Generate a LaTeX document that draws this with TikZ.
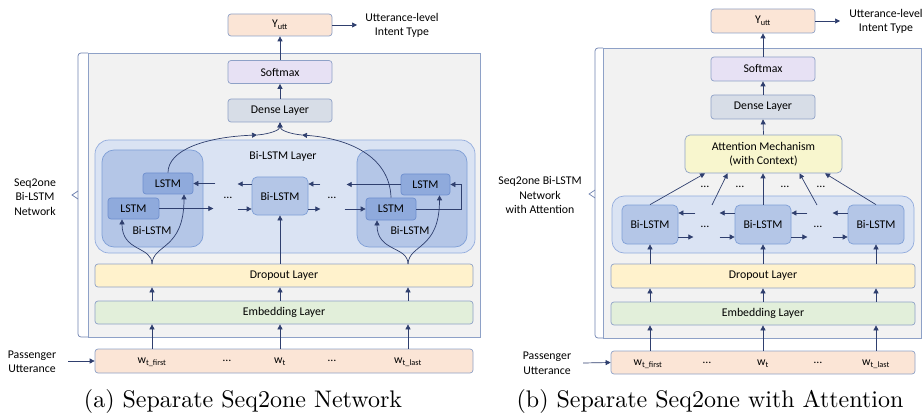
\documentclass[tikz,border=0pt]{standalone}
\usepackage{fontspec}
\newfontfamily\carlito{Carlito}
\newfontfamily\capf{lmroman10-regular}[Extension=.otf]
\usetikzlibrary{arrows.meta}
\definecolor{arrc}{HTML}{2F3F6E}
\definecolor{bord}{HTML}{8EA1C7}
\definecolor{brk}{HTML}{6F82B0}
\definecolor{peach}{HTML}{FBE5D6}
\definecolor{lav}{HTML}{E7E1F4}
\definecolor{dens}{HTML}{D7DDE7}
\definecolor{frm}{HTML}{F2F2F2}
\definecolor{lay}{HTML}{DAE3F3}
\definecolor{layb}{HTML}{93ACDD}
\definecolor{bil}{HTML}{B4C6E7}
\definecolor{bilb}{HTML}{7F9FD6}
\definecolor{lstm}{HTML}{8FAADC}
\definecolor{lstmb}{HTML}{6F8FCF}
\definecolor{drop}{HTML}{FFF2CC}
\definecolor{emb}{HTML}{E2EFDA}
\definecolor{att}{HTML}{F8F6CE}
\newcommand{\lf}{\carlito\fontsize{11.8}{14.5}\selectfont}
\begin{document}
\begin{tikzpicture}[x=1pt,y=-1pt,
  box/.style={draw=bord, line width=0.7pt, rounded corners=3pt, inner sep=0pt, align=center, font=\lf},
  lbl/.style={inner sep=0pt, align=center, font=\lf},
  lstmbox/.style={box, draw=lstmb, fill=lstm, minimum width=50, minimum height=21},
  bibox/.style={box, draw=bilb, fill=bil, rounded corners=5pt},
  framebox/.style={draw=bord, fill=frm, line width=0.7pt, inner sep=0pt},
  brack/.style={draw=brk, line width=0.7pt},
  arr/.style={draw=arrc, line width=0.7pt, -{Triangle[length=5pt,width=5pt]}},
  captxt/.style={inner sep=0pt, font=\capf\fontsize{24}{28}\selectfont}]
\useasboundingbox (0,0) rectangle (923,414);

% ================= Panel (a) =================
\node[framebox, minimum width=392, minimum height=284] (frA) at (284,195) {};
\draw[brack, rounded corners=3pt] (88,53) -- (78,53) -- (78,337) -- (88,337);
\draw[brack] (78,191) -- (72,195) -- (78,199);
\node[lbl] (labA) at (35,197) {Seq2one\\Bi-LSTM\\Network};

\node[box, fill=peach, minimum width=104, minimum height=22] (yA) at (280,25) {Y\textsubscript{utt}};
\node[lbl] (utA) at (402,25.5) {Utterance-level\\Intent Type};
\coordinate (uaA) at (357,25);
\draw[arr] (yA.east) -- (uaA);

\node[box, fill=lav, minimum width=104, minimum height=23] (smA) at (280,72) {Softmax};
\node[box, fill=dens, minimum width=104, minimum height=23] (dnA) at (280,110.5) {Dense Layer};
\draw[arr] (smA.north) -- (yA.south);
\draw[arr] (dnA.north) -- (smA.south);

\node[draw=layb, fill=lay, line width=0.7pt, rounded corners=14pt, minimum width=380, minimum height=113, inner sep=0pt] (layA) at (285,196.5) {};
\node[lbl] (layAt) at (283,156) {Bi-LSTM Layer};
\node[draw=bilb, fill=bil, line width=0.7pt, rounded corners=12pt, minimum width=101, minimum height=97, inner sep=0pt] (bL) at (152.5,198.5) {};
\node[draw=bilb, fill=bil, line width=0.7pt, rounded corners=12pt, minimum width=110, minimum height=97, inner sep=0pt] (bR) at (412,198.5) {};
\node[lbl] (bLt) at (152,230) {Bi-LSTM};
\node[lbl] (bRt) at (410,230) {Bi-LSTM};

\node[lstmbox] (ltL) at (168,183.5) {LSTM};
\node[lstmbox, minimum width=51] (llL) at (133.5,208.5) {LSTM};
\node[lstmbox, minimum width=49] (ltR) at (425.5,184.5) {LSTM};
\node[lstmbox, minimum height=22] (llR) at (391,209) {LSTM};
\node[bibox, minimum width=56, minimum height=38] (bC) at (280,196) {Bi-LSTM};

\node[lbl] (d1) at (228,198) {\dots};
\node[lbl] (d2) at (332,198) {\dots};

% horizontal arrows (a)
\draw[arr] ([xshift=22pt]ltL.east) -- (ltL.east);
\draw[arr] ([yshift=12pt]bC.west) -- ++(-14,0);
\draw[arr] ([xshift=12pt,yshift=12pt]bC.east) -- ([yshift=12pt]bC.east);
\draw[arr] (ltR.west) -- ++(-54,0);
\draw[arr] (llL.east) -- ++(54,0);
\draw[arr] ([xshift=-14pt,yshift=-13pt]bC.west) -- ([yshift=-13pt]bC.west);
\draw[arr] ([yshift=-13pt]bC.east) -- ++(12,0);
\draw[arr] ([xshift=-21pt]llR.west) -- (llR.west);
\draw[arr] (llR.east) -- ++(45,0) |- (ltR.east);

\node[box, fill=drop, minimum width=378, minimum height=23] (doA) at (284,275.5) {Dropout Layer};
\node[box, fill=emb, minimum width=378, minimum height=23] (emA) at (284,312.5) {Embedding Layer};
\node[box, fill=peach, minimum width=378, minimum height=24] (wA) at (284,361) {};

\coordinate (sL) at (152,264);
\coordinate (sR) at (408,264);
\draw[arr] (sL) .. controls (152,246) and (122,252) .. ([xshift=-11.5pt]llL.south);
\draw[arr] (sL) .. controls (153,244) and (184,250) .. ([xshift=16pt]ltL.south);
\draw[arr] (sR) .. controls (408,246) and (377,252) .. ([xshift=-14pt]llR.south);
\draw[arr] (sR) .. controls (409,244) and (439.5,250) .. ([xshift=14pt]ltR.south);
\draw[arr] (doA.north -| bC) -- (bC.south);

\coordinate (mL) at (257,135);
\coordinate (mR) at (302,135);
\draw[arr] (ltL.north) .. controls (168,150) and (205,137) .. (mL);
\draw[arr] (mL) .. controls (270,134) and (280,130) .. (dnA.south);
\draw[arr] (llR.north) .. controls (390,160) and (355,139) .. (mR);
\draw[arr] (mR) .. controls (290,134) and (280,130) .. (dnA.south);

\draw[arr] (emA.north -| sL) -- (doA.south -| sL);
\draw[arr] (emA.north -| bC) -- (doA.south -| bC);
\draw[arr] (emA.north -| sR) -- (doA.south -| sR);
\draw[arr] (wA.north -| sL) -- (emA.south -| sL);
\draw[arr] (wA.north -| bC) -- (emA.south -| bC);
\draw[arr] (wA.north -| sR) -- (emA.south -| sR);

\node[lbl] (w1A) at (152,362) {w\textsubscript{t\_first}};
\node[lbl] (w2A) at (227,361) {\dots};
\node[lbl] (w3A) at (280,362) {w\textsubscript{t}};
\node[lbl] (w4A) at (332,361) {\dots};
\node[lbl] (w5A) at (408,362) {w\textsubscript{t\_last}};

\node[lbl] (pasA) at (32,362) {Passenger\\Utterance};
\coordinate (paA) at (68,361);
\draw[arr] (paA) -- (wA.west);

\node[captxt] (capA) at (243,401) {(a) Separate Seq2one Network};

% ================= Panel (b) =================
\node[framebox, minimum width=318, minimum height=290] (frB) at (762,193) {};
\draw[brack, rounded corners=3pt] (603,48) -- (595,48) -- (595,338) -- (603,338);
\draw[brack] (595,190) -- (589,194) -- (595,198);
\node[lbl] (labB) at (540,195) {Seq2one Bi-LSTM\\Network\\with Attention};

\node[box, fill=peach, minimum width=104, minimum height=24] (yB) at (763,21) {Y\textsubscript{utt}};
\node[lbl] (utB) at (886,21.5) {Utterance-level\\Intent Type};
\coordinate (uaB) at (840,21);
\draw[arr] (yB.east) -- (uaB);

\node[box, fill=lav, minimum width=104, minimum height=24] (smB) at (763,69) {Softmax};
\node[box, fill=dens, minimum width=104, minimum height=24] (dnB) at (763,107) {Dense Layer};
\draw[arr] (smB.north) -- (yB.south);
\draw[arr] (dnB.north) -- (smB.south);

\node[box, fill=att, minimum width=157, minimum height=38, rounded corners=5pt] (atB) at (763.5,154) {Attention Mechanism\\(with Context)};
\draw[arr] (atB.north) -- (dnB.south);

\node[draw=layb, fill=lay, line width=0.7pt, rounded corners=12pt, minimum width=302, minimum height=57, inner sep=0pt] (layB) at (763,224.5) {};
\node[bibox, minimum width=56, minimum height=39] (b1) at (650,224.5) {Bi-LSTM};
\node[bibox, minimum width=56, minimum height=39] (b2) at (763,224.5) {Bi-LSTM};
\node[bibox, minimum width=56, minimum height=39] (b3) at (876,224.5) {Bi-LSTM};

\coordinate (q1) at (712,205);
\coordinate (q2) at (817,205);
\draw[arr] (b1.north) -- ([xshift=-58.5pt]atB.south);
\draw[arr] (q1) -- ([xshift=-36pt]atB.south);
\draw[arr] (b2.north) -- (b2.north |- atB.south);
\draw[arr] (q2) -- ([xshift=36pt]atB.south);
\draw[arr] (b3.north) -- ([xshift=61.5pt]atB.south);
\node[lbl] (e1) at (705,187) {\dots};
\node[lbl] (e2) at (740,187) {\dots};
\node[lbl] (e3) at (785,187) {\dots};
\node[lbl] (e4) at (821,187) {\dots};

\draw[arr] ([xshift=17pt,yshift=11.5pt]b1.east) -- ([yshift=11.5pt]b1.east);
\draw[arr] ([yshift=11.5pt]b2.west) -- ++(-15,0);
\draw[arr] ([xshift=16pt,yshift=11.5pt]b2.east) -- ([yshift=11.5pt]b2.east);
\draw[arr] ([yshift=11.5pt]b3.west) -- ++(-15,0);
\draw[arr] ([yshift=-12.5pt]b1.east) -- ++(15,0);
\draw[arr] ([xshift=-15pt,yshift=-12.5pt]b2.west) -- ([yshift=-12.5pt]b2.west);
\draw[arr] ([yshift=-12.5pt]b2.east) -- ++(16,0);
\draw[arr] ([xshift=-15pt,yshift=-12.5pt]b3.west) -- ([yshift=-12.5pt]b3.west);
\node[lbl] (e5) at (705,227) {\dots};
\node[lbl] (e6) at (818,227) {\dots};

\node[box, fill=drop, minimum width=304, minimum height=24] (doB) at (763,276) {Dropout Layer};
\node[box, fill=emb, minimum width=304, minimum height=23] (emB) at (763,313.5) {Embedding Layer};
\node[box, fill=peach, minimum width=304, minimum height=23] (wB) at (763,362.5) {};

\draw[arr] (doB.north -| b1) -- (b1.south);
\draw[arr] (doB.north -| b2) -- (b2.south);
\draw[arr] (doB.north -| b3) -- (b3.south);
\draw[arr] (emB.north -| b1) -- (doB.south -| b1);
\draw[arr] (emB.north -| b2) -- (doB.south -| b2);
\draw[arr] (emB.north -| b3) -- (doB.south -| b3);
\draw[arr] (wB.north -| b1) -- (emB.south -| b1);
\draw[arr] (wB.north -| b2) -- (emB.south -| b2);
\draw[arr] (wB.north -| b3) -- (emB.south -| b3);

\node[lbl] (w1B) at (648,364) {w\textsubscript{t\_first}};
\node[lbl] (w2B) at (707,363) {\dots};
\node[lbl] (w3B) at (763,364) {w\textsubscript{t}};
\node[lbl] (w4B) at (818,363) {\dots};
\node[lbl] (w5B) at (876,364) {w\textsubscript{t\_last}};

\node[lbl] (pasB) at (547,363.5) {Passenger\\Utterance};
\coordinate (paB) at (583,363);
\draw[arr] (paB) -- (wB.west);

\node[captxt] (capB) at (710,401) {(b) Separate Seq2one with Attention};
\end{tikzpicture}
\end{document}
